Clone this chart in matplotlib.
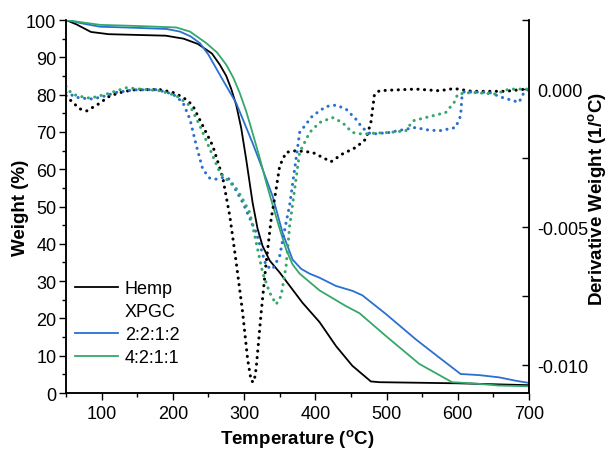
import numpy as np
import matplotlib
matplotlib.use("Agg")
from matplotlib import pyplot as plt
from matplotlib.lines import Line2D
from matplotlib.ticker import MultipleLocator, FixedLocator, FormatStrFormatter

plt.rcParams['font.family'] = ['Liberation Sans', 'DejaVu Sans']
plt.rcParams['mathtext.fontset'] = 'custom'
plt.rcParams['mathtext.rm'] = 'Liberation Sans'
plt.rcParams['mathtext.bf'] = 'Liberation Sans:bold'

# TGA (peso %)
t_hemp = [50, 65, 85, 110, 150, 190, 215, 235, 255, 266, 275, 282, 289, 296, 303, 312, 319, 326,
          336, 350, 365, 382, 406, 429, 452, 478, 490, 600, 700]
w_hemp = [100, 98.8, 96.8, 96.2, 96.0, 95.8, 95.0, 93.6, 91, 88, 85, 81.5, 77.2, 71, 62.6, 51,
          44, 39.4, 35.5, 32.3, 28.5, 24.2, 19, 12.6, 7.3, 3.1, 2.9, 2.6, 2.1]

t_2212 = [50, 75, 98, 150, 191, 210, 225, 238, 250, 266, 289, 312, 326, 340, 354, 368,
          380, 392, 406, 429, 452, 466, 499, 541, 574, 604, 630, 658, 681, 700]
w_2212 = [100, 99.0, 98.2, 97.9, 97.6, 96.9, 95.6, 93.8, 90.7, 85.3, 77.7, 67, 60, 52.8, 43, 35.8,
          33.3, 32, 30.9, 28.7, 27.4, 26.2, 21.2, 14.4, 9.5, 5.1, 4.8, 4.2, 3.3, 2.7]

t_4211 = [50, 75, 98, 150, 205, 224, 247, 262, 275, 285, 294, 303, 312, 322, 331, 340, 350, 359,
          368, 378, 406, 443, 462, 499, 546, 592, 620, 658, 700]
w_4211 = [100, 99.3, 98.7, 98.4, 98.0, 96.9, 93.8, 91.3, 88, 84.5, 80.4, 75.5, 69.7, 63, 56.5, 50.5,
          44, 38.5, 34.5, 32, 27.5, 23.3, 21.4, 15.3, 7.8, 2.9, 2.6, 2.0, 1.8]

# DTG (x1e-3 1/C)
td_hemp = [50, 60, 70, 79, 95, 112, 130, 144, 165, 182, 200, 210, 220, 228, 242, 256, 270, 280,
           289, 298, 305, 310, 314, 317, 324, 331, 338, 345, 350, 359, 373, 396, 410, 422, 438,
           457, 471, 478, 483, 490, 504, 541, 574, 595, 620, 667, 695, 700]
d_hemp = [-0.24, -0.5, -0.72, -0.79, -0.55, -0.24, -0.1, -0.03, -0.02, -0.02, -0.12, -0.24, -0.4,
          -0.6, -1.33, -2.05, -3.2, -4.6, -6.28, -8.09, -9.78, -10.57, -10.6, -10.1, -8.09, -6.28,
          -4.71, -3.62, -2.78, -2.29, -2.23, -2.29, -2.47, -2.63, -2.35, -2.11, -1.81, -1.21, -0.2,
          -0.06, -0.04, 0, -0.06, 0.02, -0.08, -0.08, 0, 0]

td_2212 = [50, 65, 84, 98, 121, 144, 177, 200, 214, 224, 233, 242, 252, 261, 270, 280, 298, 317,
           331, 340, 350, 359, 364, 371, 378, 396, 415, 429, 443, 457, 466, 478, 504, 527, 541,
           555, 574, 597, 604, 606, 609, 644, 662, 686, 693, 700]
d_2212 = [-0.12, -0.3, -0.36, -0.3, -0.12, -0.03, -0.02, -0.18, -0.48, -1.09, -2.05, -2.9, -3.23,
          -3.26, -3.2, -3.26, -4.1, -5.19, -6.4, -6.52, -6.04, -4.83, -4.2, -2.9, -1.57, -0.97,
          -0.63, -0.58, -0.72, -1.09, -1.4, -1.63, -1.57, -1.45, -1.39, -1.47, -1.51, -1.39, -0.97,
          -0.24, -0.1, -0.12, -0.3, -0.48, -0.12, 0]

td_4211 = [50, 56, 65, 84, 107, 125, 135, 154, 182, 205, 224, 238, 252, 266, 280, 289, 298, 308,
           317, 326, 336, 345, 352, 359, 364, 371, 378, 392, 406, 424, 438, 452, 466, 480, 504,
           527, 537, 555, 583, 595, 600, 620, 653, 672, 700]
d_4211 = [0.1, -0.1, -0.24, -0.33, -0.18, -0.03, 0.05, 0, -0.06, -0.24, -0.6, -1.33, -2.17, -3.02,
          -3.38, -3.6, -3.98, -4.47, -5.55, -6.64, -7.37, -7.79, -7.49, -6.4, -4.95, -3.62, -2.29,
          -1.57, -1.21, -1.03, -1.21, -1.57, -1.63, -1.6, -1.57, -1.51, -1.15, -1.03, -0.85, -0.48,
          -0.18, -0.12, -0.18, 0, 0]

c_blue = '#2a70d0'
c_green = '#34a86b'

fig = plt.figure(figsize=(6.1, 4.52), dpi=100)
ax = fig.add_axes([0.1082, 0.1283, 0.759, 0.8252])
ax2 = ax.twinx()

ax.plot(t_hemp, w_hemp, color='black', lw=1.3)
ax.plot(t_2212, w_2212, color=c_blue, lw=1.3)
ax.plot(t_4211, w_4211, color=c_green, lw=1.3)

punteado = dict(lw=2.2, linestyle=(0, (0.05, 2.1)), dash_capstyle='round')
ax2.plot(td_hemp, np.array(d_hemp) * 1e-3, color='black', **punteado)
ax2.plot(td_2212, np.array(d_2212) * 1e-3, color=c_blue, **punteado)
ax2.plot(td_4211, np.array(d_4211) * 1e-3, color=c_green, **punteado)

ax.set_xlim(50, 700)
ax.set_ylim(0, 100)
ax2.set_ylim(-0.011, 0.0025)

ax.xaxis.set_major_locator(FixedLocator([100, 200, 300, 400, 500, 600, 700]))
ax.xaxis.set_minor_locator(MultipleLocator(50))
ax.yaxis.set_major_locator(MultipleLocator(10))
ax.yaxis.set_minor_locator(MultipleLocator(5))
ax2.yaxis.set_major_locator(FixedLocator([0, -0.005, -0.01]))
ax2.yaxis.set_minor_locator(FixedLocator([0.0025, -0.0025, -0.0075]))
ax2.yaxis.set_major_formatter(FormatStrFormatter('%.3f'))

ax.tick_params(axis='both', which='major', direction='out', length=5, width=1, labelsize=13)
ax.tick_params(axis='y', which='major', pad=2)
ax.tick_params(axis='both', which='minor', direction='out', length=3, width=1)
ax2.tick_params(axis='y', which='major', direction='in', length=5, width=1, labelsize=13, pad=6)
ax2.tick_params(axis='y', which='minor', direction='in', length=5, width=1)

for a in (ax, ax2):
    a.spines['top'].set_visible(False)
    for s in a.spines.values():
        s.set_linewidth(1.1)

ax.set_xlabel(r'Temperature ($\mathbf{^o}$C)', fontsize=13.5, fontweight='bold', labelpad=4)
ax.set_ylabel('Weight (%)', fontsize=13.5, fontweight='bold')
ax2.set_ylabel(r'Derivative Weight (1/$\mathbf{^o}$C)', fontsize=13.5, fontweight='bold')
ax.yaxis.set_label_coords((29 - 66) / 463, 0.5)
ax2.yaxis.set_label_coords((586 - 66) / 463, 0.523)

handles = [Line2D([], [], color='black', lw=1.3),
           Line2D([], [], color='none'),
           Line2D([], [], color=c_blue, lw=1.3),
           Line2D([], [], color=c_green, lw=1.3)]
etiquetas = ['Hemp', 'XPGC', '2:2:1:2', '4:2:1:1']
fig.legend(handles, etiquetas, loc='upper left', bbox_to_anchor=(75 / 610, 1 - 281 / 452),
           frameon=False, fontsize=13, handlelength=2.4, handletextpad=0.35,
           labelspacing=0.33, borderpad=0, borderaxespad=0)

fig.savefig('out.png', dpi=100)
